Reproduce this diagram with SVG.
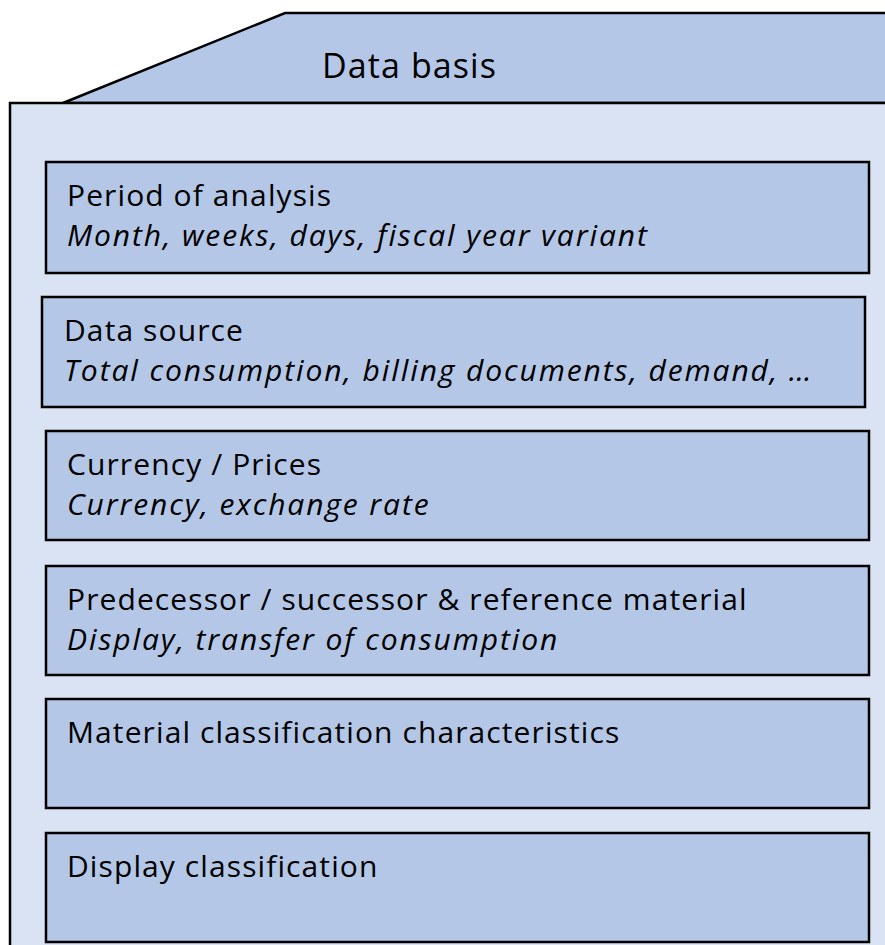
<svg xmlns="http://www.w3.org/2000/svg" width="885" height="945" viewBox="0 0 885 945">
<style>
.tab{fill:#B4C7E7;stroke:#000;stroke-width:2.5}
.body{fill:#DAE3F3;stroke:#000;stroke-width:2.5}
.box{fill:#B4C7E7;stroke:#000;stroke-width:2.5}
text{font-family:"Open Sans","Liberation Sans",sans-serif;font-size:30px;letter-spacing:1.1px;fill:#000}
.it{font-style:italic;letter-spacing:1.9px}
.hd{font-size:34px;letter-spacing:1.1px}
</style>
<rect width="885" height="945" fill="#fff"/>
<g id="container">
<polygon class="tab" points="63,103 285,13 890,13 890,103"/>
<rect class="body" x="10" y="103" width="885" height="860"/>
<text class="hd" x="322" y="78">Data basis</text>
</g>
<g id="period">
<rect class="box" x="46" y="162" width="823" height="111"/>
<text x="67" y="206">Period of analysis</text>
<text class="it" x="67" y="246">Month, weeks, days, fiscal year variant</text>
</g>
<g id="source">
<rect class="box" x="42" y="297" width="823" height="110"/>
<text x="64" y="341">Data source</text>
<text class="it" x="64" y="381">Total consumption, billing documents, demand, …</text>
</g>
<g id="currency">
<rect class="box" x="46" y="431" width="823" height="109"/>
<text x="67" y="475">Currency / Prices</text>
<text class="it" x="67" y="515">Currency, exchange rate</text>
</g>
<g id="predecessor">
<rect class="box" x="46" y="566" width="823" height="109"/>
<text x="67" y="610">Predecessor / successor &amp; reference material</text>
<text class="it" x="67" y="650">Display, transfer of consumption</text>
</g>
<g id="material">
<rect class="box" x="46" y="699" width="823" height="109"/>
<text x="67" y="743">Material classification characteristics</text>
</g>
<g id="display">
<rect class="box" x="46" y="833" width="823" height="109"/>
<text x="67" y="877">Display classification</text>
</g>
<g id="connectors"></g>
</svg>
